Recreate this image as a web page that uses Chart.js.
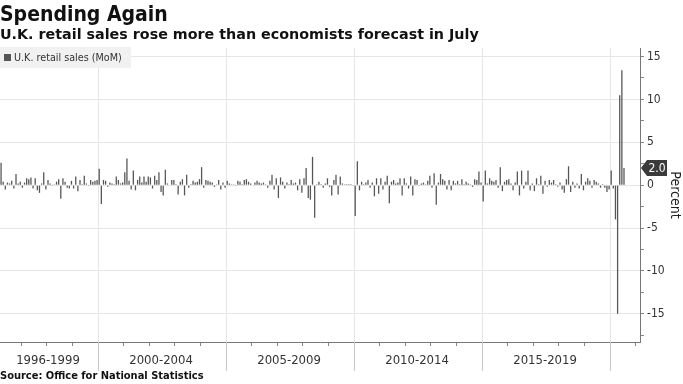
<!DOCTYPE html>
<html>
<head>
<meta charset="utf-8">
<script src="https://cdn.jsdelivr.net/npm/chart.js@4.4.0/dist/chart.umd.min.js"></script>
<style>
  body { margin: 0; background: #fff; }
  .wrap { position: relative; width: 683px; height: 384px; overflow: hidden; }
  canvas { position: absolute; left: 0; top: 0; }
  .title { position: absolute; left: 0; top: 2px; font: bold 21px 'DejaVu Sans Condensed', 'DejaVu Sans', sans-serif; color: #111; }
  .subtitle { position: absolute; left: 0; top: 26px; font: bold 14.3px 'DejaVu Sans', sans-serif; color: #111; }
  .source { position: absolute; left: 0; top: 369px; font: bold 11px 'DejaVu Sans Condensed', 'DejaVu Sans', sans-serif; color: #111; }
</style>
</head>
<body>
<div class="wrap">
  <canvas id="chart" width="683" height="384"></canvas>
  <div class="title">Spending Again</div>
  <div class="subtitle">U.K. retail sales rose more than economists forecast in July</div>
  <div class="source">Source: Office for National Statistics</div>
</div>
<script>
// monthly % change (first bar = March 1996)
const sales1996to1999 = [2.6, 0.4, -0.5, 0.3, 0.2, 0.5, -0.4, 1.3, 0.2, 0.4, -0.3, 0.3, 0.8, 0.7, 0.9, -0.4,
  0.8, -0.6, -0.9, 0.2, 1.5, -0.5, 0.6, 0.2, -0.1, 0.1, 0.4, 0.7, -1.6, 0.8, 0.4, -0.3, -0.4, 0.5, -0.4, 1.0,
  -0.7, 0.6, 0.1, 1.1, 0.2, -0.1, 0.6, 0.4, 0.5, 0.6];
const sales2000to2004 = [1.9, -2.2, 0.6, 0.5, -0.2, 0.3, 0.2, 0.1, 1.0, 0.6, 0.2, 0.3, 1.5, 3.1, 0.5, -0.5,
  1.7, -0.6, 0.6, 1.0, 0.3, 1.0, 0.4, 1.0, 0.9, -0.4, 1.1, 0.6, 1.5, -0.8, -1.2, 1.8, 0.2, 0.0, 0.6, 0.6,
  0.1, -1.1, 0.4, 0.7, -1.2, 1.2, -0.3, 0.1, 0.5, 0.3, 0.4, 0.7, 2.1, -0.3, 0.6, 0.5, 0.4, 0.3, -0.2, 0.1,
  0.6, -0.5, 0.3, -0.3];
const sales2005to2009 = [0.5, 0.2, 0.1, 0.1, -0.1, 0.5, 0.4, 0.1, 0.6, 0.7, 0.4, 0.2, 0.0, 0.3, 0.5, 0.3,
  0.2, 0.3, 0.1, -0.3, 0.5, 1.2, -0.5, 0.8, -1.5, 0.9, 0.4, -0.4, 0.3, 0.1, 0.6, 0.2, 0.3, -0.6, 0.7, -0.9,
  0.8, 2.0, -1.5, -1.7, 3.3, -3.8, 0.1, 0.4, 0.1, -0.3, 0.2, 0.8, -0.2, -1.2, 0.6, 1.2, -1.1, 1.0, 0.2, 0.1,
  0.1, 0.1, 0.1, -0.1];
const sales2010to2014 = [-3.6, 2.8, -0.6, 0.4, 0.1, 0.3, 0.6, -0.3, 0.3, -1.3, 0.8, -1.0, 0.8, -0.5, 0.4, 1.1,
  -2.1, 0.4, 0.6, 0.2, 0.3, 0.8, -1.2, 0.8, 0.2, -0.4, 1.0, -1.2, 0.7, 0.6, -0.1, 0.2, 0.3, 0.1, 0.5, 1.1,
  -0.3, 1.4, -2.3, 0.3, 1.3, 0.7, 0.5, -0.5, 0.6, -0.6, 0.5, 0.2, 0.5, 0.1, 0.7, 0.1, 0.4, 0.2, 0.1, -0.2,
  0.7, 0.6, 1.6, 0.3];
const sales2015to2019 = [-1.9, 1.7, 0.2, 0.8, 0.5, 0.4, 0.6, -0.3, 2.1, -0.7, 0.4, 0.6, 0.7, 0.2, -0.6, 0.3,
  1.6, -1.2, 1.7, -0.4, 0.4, 1.7, -0.6, 0.2, -0.7, 0.8, 0.1, 1.1, -1.0, 0.5, -0.2, 0.6, 0.3, 0.6, 0.1, -0.2,
  0.3, -0.5, -0.9, 0.7, 2.2, -0.8, 0.4, -0.3, 0.2, -0.4, 1.3, -0.6, 0.4, 0.8, 0.5, -0.3, 0.6, 0.4, 0.2, -0.3,
  0.1, -0.3, -0.8, -0.5];
const sales2020 = [1.7, -0.4, -4.0, -15.0, 10.5, 13.4, 2.0];

const groupLabels = ['1996-1999', '2000-2004', '2005-2009', '2010-2014', '2015-2019'];
const groupStartYears = [1996, 2000, 2005, 2010, 2015, 2020];
const yTickValues = [15, 12.5, 10, 7.5, 5, 2.5, 0, -2.5, -5, -7.5, -10, -12.5, -15, -17.5];

const startYear = 1996;
const startMonth = 3;
const axisMonths = 300; // axis keeps going a few months past the last bar

const sales = [].concat(sales1996to1999, sales2000to2004, sales2005to2009,
  sales2010to2014, sales2015to2019, sales2020);

const months = [];
for (let i = 0; i < axisMonths; i++) {
  const m = startMonth - 1 + i;
  months.push(`${startYear + Math.floor(m / 12)}-${String((m % 12) + 1).padStart(2, '0')}`);
}

// where each group starts on the axis, and which tick carries its label
const groupStart = groupStartYears.map(y => Math.max(0, months.indexOf(`${y}-01`)));
const labelAt = {};
groupLabels.forEach((label, g) => {
  labelAt[Math.floor((groupStart[g] + groupStart[g + 1] - 1) / 2)] = label;
});

const isJan = i => months[i] && months[i].endsWith('-01');
const isGroupEdge = i => isJan(i) && +months[i].slice(0, 4) % 5 === 0;

Chart.defaults.font.family = `'DejaVu Sans Condensed', 'DejaVu Sans', sans-serif`;
Chart.defaults.color = '#333';

// legend box sitting on top of the plot, top left
const legendBox = {
  id: 'legendBox',
  afterDraw(chart) {
    const ctx = chart.ctx;
    ctx.save();
    ctx.fillStyle = '#f1f1f1';
    ctx.fillRect(0, 47, 131, 21);
    ctx.fillStyle = '#555';
    ctx.fillRect(4, 54, 7, 7);
    ctx.fillStyle = '#333';
    ctx.font = `10.7px 'DejaVu Sans Condensed', 'DejaVu Sans', sans-serif`;
    ctx.textBaseline = 'middle';
    ctx.fillText('U.K. retail sales (MoM)', 14, 58);
    ctx.restore();
  },
};

// long separators between the year groups, below the axis
const groupSeparators = {
  id: 'groupSeparators',
  afterDraw(chart) {
    const x = chart.scales.x;
    const half = (x.getPixelForValue(1) - x.getPixelForValue(0)) / 2;
    const ctx = chart.ctx;
    ctx.save();
    ctx.strokeStyle = '#c8c8c8';
    ctx.lineWidth = 1;
    groupStart.slice(1).forEach(i => {
      const px = Math.round(x.getPixelForValue(i) - half) + 0.5;
      ctx.beginPath();
      ctx.moveTo(px, chart.chartArea.bottom);
      ctx.lineTo(px, 371);
      ctx.stroke();
    });
    ctx.restore();
  },
};

// dark tag with the latest value on the right axis
const lastValueTag = {
  id: 'lastValueTag',
  afterDraw(chart) {
    const last = sales[sales.length - 1];
    const y = chart.scales.y.getPixelForValue(last);
    const x = chart.chartArea.right + 1;
    const ctx = chart.ctx;
    ctx.save();
    ctx.fillStyle = '#3b3b3b';
    ctx.beginPath();
    ctx.moveTo(x, y);
    ctx.lineTo(x + 6, y - 8);
    ctx.lineTo(x + 26, y - 8);
    ctx.lineTo(x + 26, y + 8);
    ctx.lineTo(x + 6, y + 8);
    ctx.closePath();
    ctx.fill();
    ctx.fillStyle = '#fff';
    ctx.font = `12px 'DejaVu Sans Condensed', 'DejaVu Sans', sans-serif`;
    ctx.textAlign = 'center';
    ctx.textBaseline = 'middle';
    ctx.fillText(last.toFixed(1), x + 16, y + 0.5);
    ctx.restore();
  },
};

new Chart(document.getElementById('chart'), {
  type: 'bar',
  data: {
    labels: months,
    datasets: [{
      label: 'U.K. retail sales (MoM)',
      data: sales,
      backgroundColor: '#555',
      barPercentage: 0.6,
      categoryPercentage: 1,
    }],
  },
  plugins: [legendBox, groupSeparators, lastValueTag],
  options: {
    responsive: false,
    animation: false,
    devicePixelRatio: 1,
    layout: { padding: { top: 48, left: 0, right: 0, bottom: 0 } },
    plugins: {
      legend: { display: false },
      tooltip: { enabled: false },
    },
    scales: {
      x: {
        afterFit(scale) {
          scale.height = 42;
          // the plot runs right to the left edge
          scale.paddingLeft = 0;
          scale.paddingRight = 0;
        },
        border: { display: true, color: '#777' },
        grid: {
          color: ctx => (isGroupEdge(ctx.index) ? '#e6e6e6' : 'rgba(0,0,0,0)'),
          tickColor: ctx => (isJan(ctx.index) ? '#888' : 'rgba(0,0,0,0)'),
          tickLength: 4,
        },
        ticks: {
          autoSkip: false,
          maxRotation: 0,
          minRotation: 0,
          padding: 7,
          color: '#333',
          font: { size: 13 },
          callback: (value, index) => labelAt[index] || '',
        },
      },
      y: {
        position: 'right',
        min: -18.3,
        max: 16,
        afterFit(scale) { scale.width = 43; },
        afterBuildTicks(scale) { scale.ticks = yTickValues.map(v => ({ value: v })); },
        border: { display: true, color: '#777' },
        grid: {
          color: ctx => (ctx.tick && ctx.tick.value % 5 === 0 ? '#e6e6e6' : 'rgba(0,0,0,0)'),
          tickColor: '#888',
          tickLength: 4,
        },
        ticks: {
          padding: 3,
          color: '#333',
          font: { size: 12 },
          callback: value => (value % 5 === 0 ? String(value) : ''),
        },
        title: {
          display: true,
          text: 'Percent',
          color: '#222',
          font: { size: 14 },
          padding: 0,
        },
      },
    },
  },
});
</script>
</body>
</html>
